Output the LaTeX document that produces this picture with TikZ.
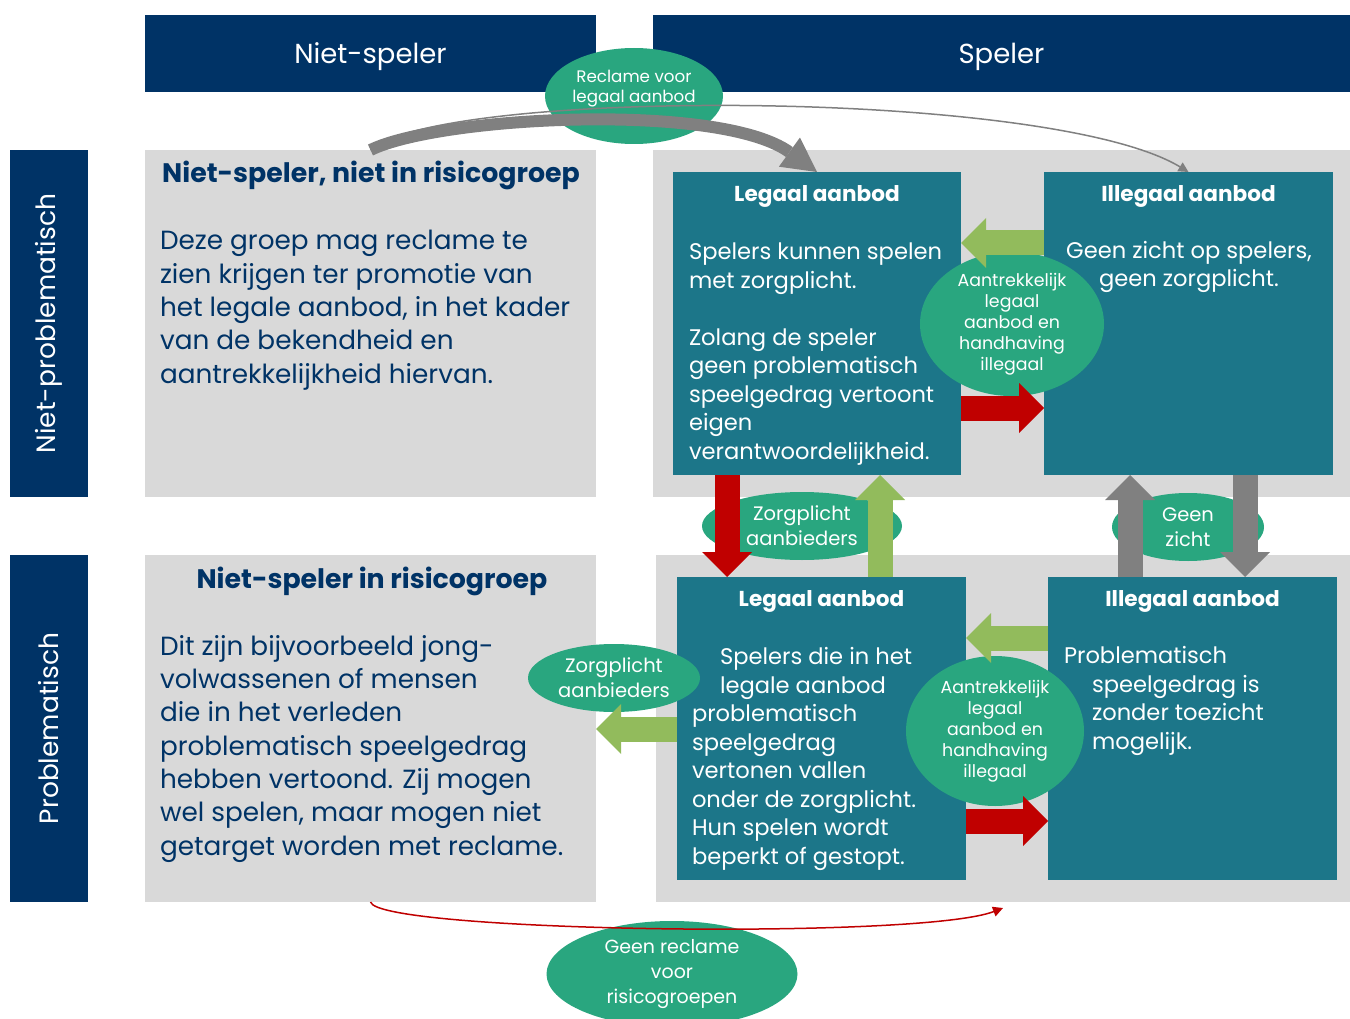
\documentclass[tikz,border=0pt]{standalone}
\usepackage{fontspec}
\setmainfont{Poppins}
\usetikzlibrary{positioning, arrows.meta, shapes.geometric}

\definecolor{navy}{RGB}{0,51,102}
\definecolor{paneGrey}{RGB}{217,217,217}
\definecolor{petrol}{RGB}{28,118,137}
\definecolor{mint}{RGB}{41,166,127}
\definecolor{lime}{RGB}{146,187,92}
\definecolor{alarm}{RGB}{192,0,0}
\definecolor{ash}{RGB}{128,128,128}

\tikzset{
  every node/.style={inner sep=0pt, outer sep=0pt}, % boxes end exactly on their edges
  header/.style={fill=navy, text=white, minimum height=77pt, anchor=north west, text depth=0pt, font=\fontsize{27.5}{32}\selectfont},
  sidebar/.style={fill=navy, text=white, rotate=90, minimum width=347pt, minimum height=78pt, font=\fontsize{26.5}{30}\selectfont},
  pane/.style={fill=paneGrey, minimum height=347pt, anchor=north west},
  card/.style={fill=petrol, minimum width=289pt, minimum height=303pt, anchor=north west},
  panetitle/.style={text=navy, font=\fontsize{26.8}{30}\selectfont\bfseries},
  panetext/.style={text=navy, anchor=base west, align=left, font=\fontsize{26.3}{33.3}\selectfont}, % base = last line
  cardtitle/.style={text=white, font=\fontsize{21.6}{26}\selectfont\bfseries},
  cardtext/.style={text=white, anchor=base west, align=left, font=\fontsize{22.6}{28.5}\selectfont},
  bubble/.style={ellipse, fill=mint, text=white, align=center}, % green labels on the flows
  fat/.style={line width=25pt, -{Triangle[width=50pt, length=25pt, line width=0pt 0]}}, % block arrows
  thin/.style={line width=1.5pt, -{Triangle[width=10pt, length=10pt]}},
}

\begin{document}
\begin{tikzpicture}[x=1pt, y=-1pt]
  \useasboundingbox (0,0) rectangle (1350,1019);

  % column and row heads
  \node[header, minimum width=451pt] (hdrNon) at (145,15) {Niet-speler};
  \node[header, minimum width=697pt, right=57pt of hdrNon] (hdrPlay) {Speler};
  \node[sidebar] (rowCalm) at (49,323.5) {Niet-problematisch};
  \node[sidebar] (rowRisk) at (49,728.5) {Problematisch};

  % grey panes
  \node[pane, minimum width=451pt] (calm) at (145,150) {};
  \node[pane, minimum width=697pt] (calmPlay) at (653,150) {};
  \node[pane, minimum width=451pt] (risk) at (145,555) {};
  \node[pane, minimum width=694pt] (riskPlay) at (656,555) {};

  \node[panetitle] (calmT) at (371,175) {Niet-speler, niet in risicogroep};
  \node[panetext] (calmB) at (160,383) {Deze groep mag reclame te\\zien krijgen ter promotie van\\het legale aanbod, in het kader\\van de bekendheid en\\aantrekkelijkheid hiervan.};
  \node[panetitle] (riskT) at (372,581) {Niet-speler in risicogroep};
  \node[panetext] (riskB) at (160,855) {Dit zijn bijvoorbeeld jong-\\volwassenen of mensen\\die in het verleden\\problematisch speelgedrag\\hebben vertoond. Zij mogen\\wel spelen, maar mogen niet\\getarget worden met reclame.};

  % offers
  \node[card, minimum width=288pt] (legal) at (673,172) {};
  \node[card] (illegal) at (1044,172) {};
  \node[card] (legalR) at (677,577) {};
  \node[card] (illegalR) at (1048,577) {};

  \node[cardtitle] (legalT) at ([yshift=-24pt]legal.north) {Legaal aanbod};
  \node[cardtitle] (illegalT) at ([yshift=-24pt]illegal.north) {Illegaal aanbod};
  \node[cardtitle] (legalRT) at ([yshift=-24pt]legalR.north) {Legaal aanbod};
  \node[cardtitle] (illegalRT) at ([yshift=-24pt]illegalR.north) {Illegaal aanbod};

  \node[cardtext] (legalB) at (689,459) {Spelers kunnen spelen\\met zorgplicht.\\[28.5pt]Zolang de speler\\geen problematisch\\speelgedrag vertoont\\eigen\\verantwoordelijkheid.};
  \node[cardtext, anchor=base, align=center] (illegalB) at (1189,287) {Geen zicht op spelers,\\geen zorgplicht.};
  \node[cardtext] (legalRB) at (692,864) {\hspace*{28pt}Spelers die in het\\\hspace*{28pt}legale aanbod\\problematisch\\speelgedrag\\vertonen vallen\\onder de zorgplicht.\\Hun spelen wordt\\beperkt of gestopt.};
  \node[cardtext] (illegalRB) at (1064,749) {Problematisch\\\hspace*{28pt}speelgedrag is\\\hspace*{28pt}zonder toezicht\\\hspace*{28pt}mogelijk.};

  % labels
  \node[bubble, minimum width=178pt, minimum height=96pt, text depth=20pt, font=\fontsize{16.7}{20}\selectfont] (adBub) at (634,96) {Reclame voor\\legaal aanbod};
  \node[bubble, minimum width=184pt, minimum height=144pt, font=\fontsize{17.4}{21}\selectfont] (lureTop) at (1012,324) {Aantrekkelijk\\legaal\\aanbod en\\handhaving\\illegaal};
  \node[bubble, minimum width=200pt, minimum height=68pt, font=\fontsize{19.5}{25}\selectfont] (careTop) at (802,526) {Zorgplicht\\aanbieders};
  \node[bubble, minimum width=152pt, minimum height=68pt, font=\fontsize{19.5}{25}\selectfont] (blind) at (1188,527) {Geen\\zicht};
  \node[bubble, minimum width=172pt, minimum height=68pt, font=\fontsize{19.5}{25}\selectfont] (careBot) at (614,678) {Zorgplicht\\aanbieders};
  \node[bubble, minimum width=178pt, minimum height=150pt, font=\fontsize{17.4}{21}\selectfont] (lureBot) at (995,731) {Aantrekkelijk\\legaal\\aanbod en\\handhaving\\illegaal};
  \node[bubble, minimum width=251pt, minimum height=106pt, font=\fontsize{19}{25}\selectfont] (noAd) at (672,974) {Geen reclame\\voor\\risicogroepen};

  % flows between the offers
  \draw[fat, lime] ([yshift=-71pt]illegal.north west) -- ([yshift=-71pt]legal.north east);
  \draw[fat, alarm] ([yshift=-236pt]legal.north east) -- ([yshift=-236pt]illegal.north west);
  \draw[fat, alarm] ([xshift=54pt]legal.south west) -- ([xshift=50pt]legalR.north west);
  \draw[fat, lime] ([xshift=203pt]legalR.north west) -- ([xshift=207pt]legal.south west);
  \draw[fat, ash] ([xshift=82pt]illegalR.north west) -- ([xshift=86pt]illegal.south west);
  \draw[fat, ash] ([xshift=201pt]illegal.south west) -- ([xshift=197pt]illegalR.north west);
  \draw[fat, lime] ([yshift=-61pt]illegalR.north west) -- ([yshift=-61pt]legalR.north east);
  \draw[fat, alarm] ([yshift=-244pt]legalR.north east) -- ([yshift=-244pt]illegalR.north west);
  \draw[fat, lime] ([yshift=-152pt]legalR.north west) -- ([yshift=-174pt]risk.north east);

  % advertising
  \draw[line width=12pt, ash, -{Triangle[width=36pt, length=34pt, line width=0pt 0]}] (calm.north) .. controls (440,116) and (720,102) .. (legal.north);
  \draw[thin, ash] (calm.north) .. controls (440,88) and (1050,88) .. (illegal.north);
  \draw[thin, alarm] (risk.south) .. controls (378,932) and (920,940) .. ([yshift=-6pt]riskPlay.south);
\end{tikzpicture}
\end{document}
